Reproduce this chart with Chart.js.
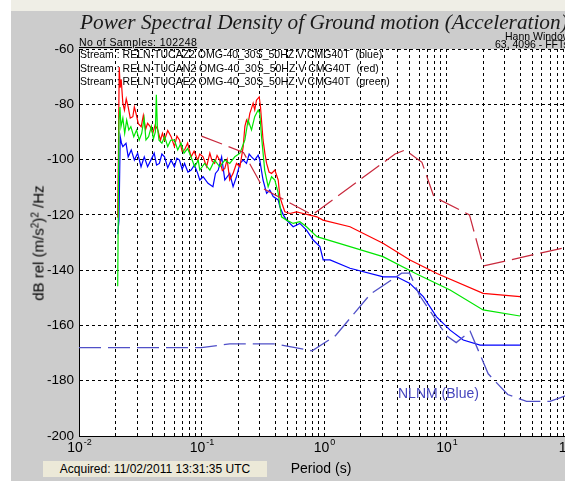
<!DOCTYPE html>
<html>
<head>
<meta charset="utf-8">
<script src="https://cdn.jsdelivr.net/npm/chart.js@4.4.1/dist/chart.umd.min.js"></script>
<style>
  html, body { margin: 0; padding: 0; }
  body { width: 565px; height: 481px; overflow: hidden; position: relative; background: #fff;
         font-family: "Liberation Sans", Arial, sans-serif; }
  #strip { position: absolute; left: 11px; top: 0; right: 0; height: 11px; background: #efeee6; }
  #panel { position: absolute; left: 11px; top: 11px; right: 0; bottom: 0; background: #cccccc; }
  #wrap { position: absolute; left: 0; top: 0; width: 620px; height: 481px; }
  .txt { position: absolute; white-space: nowrap; color: #000; }
  #title { left: 80px; top: 12px; font: italic 21.3px "Liberation Serif", "Times New Roman", serif; line-height: 21px; color: #1a1a1a; }
  .small { font-size: 10.5px; line-height: 10px; }
  #ylabel { left: 38px; top: 243px; font-size: 15px; transform: translate(-50%, -50%) rotate(-90deg); }
  #ylabel sup { font-size: 10px; vertical-align: 5px; line-height: 0; }
  #xlabel { left: 321px; top: 468px; font-size: 14px; transform: translate(-50%, -50%); }
  #acquired { left: 43px; top: 461px; width: 224px; height: 16px; background: #ece9d8; font-size: 12px; line-height: 16px; text-align: center; }
  #nlnm { left: 398px; top: 385px; font-size: 14px; color: #4646be; }
</style>
</head>
<body>
<div id="strip"></div>
<div id="panel"></div>
<div id="wrap"><canvas id="psdChart" width="620" height="481"></canvas></div>
<div class="txt" id="title">Power Spectral Density of Ground motion (Acceleration)</div>
<div class="txt small" style="left:505px; top:31px;">Hann Window</div>
<div class="txt small" style="left:495px; top:39px;">63, 4096 - FFTs</div>
<div class="txt small" style="left:79px; top:37px; text-decoration: underline; letter-spacing: 0.4px;">No of Samples: 102248</div>
<div class="txt small" style="left:80px; top:49px;">Stream : RELN-TUCAZ2 OMG-40_30S_50HZ V CMG40T&nbsp; (blue)</div>
<div class="txt small" style="left:80px; top:63px;">Stream : RELN-TUCAN2 OMG-40_30S_50HZ V CMG40T&nbsp; (red)</div>
<div class="txt small" style="left:80px; top:76px;">Stream : RELN-TUCAE2 OMG-40_30S_50HZ V CMG40T&nbsp; (green)</div>
<div class="txt" id="ylabel">dB rel (m/s<sup>2</sup>)<sup>2</sup> /Hz</div>
<div class="txt" id="xlabel">Period (s)</div>
<div class="txt" id="acquired">Acquired: 11/02/2011 13:31:35 UTC</div>
<div class="txt" id="nlnm">NLNM (Blue)</div>
<script>
// period axis
const periodTickValues = [0.01, 0.1, 1, 10, 100];
const periodTickExponents = ['-2', '-1', '0', '1', '2'];
const periodGridMultiples = [1, 2, 3, 4, 5, 6, 7, 8, 9];

// N component (red)
const redPeriods = [0.0207, 0.0210, 0.0213, 0.0217, 0.0221, 0.0228, 0.0235, 0.0243, 0.0252, 0.0262, 0.0275, 0.0283,
  0.0292, 0.0305, 0.0322, 0.0335, 0.0350, 0.0363, 0.0380, 0.0400, 0.0418, 0.0440, 0.0462, 0.0480, 0.0499, 0.0530,
  0.0565, 0.0601, 0.0630, 0.0661, 0.0695, 0.0727, 0.0770, 0.0823, 0.0870, 0.0931, 0.0968, 0.103, 0.110, 0.117,
  0.122, 0.128, 0.134, 0.141, 0.148, 0.155, 0.162, 0.170, 0.181, 0.193, 0.206, 0.219, 0.226, 0.233, 0.240, 0.248,
  0.256, 0.264, 0.272, 0.281, 0.296, 0.303, 0.318, 0.330, 0.340, 0.356, 0.373, 0.397, 0.423, 0.436, 0.455, 0.479,
  0.526, 0.597, 0.676, 0.767, 0.875, 0.98, 1.63, 3.03, 5.03, 8.36, 19.9, 39.8];
const redDb = [-121, -96, -66.5, -74, -71, -79.6, -82.1, -78, -80.9, -85, -84.5, -81,
  -83.3, -87, -88.1, -84, -89, -86.9, -88, -90.5, -87.5, -89.3, -93, -90.5, -92.9, -89.5,
  -91.7, -95.3, -91.5, -92.9, -97, -96.5, -94, -99.0, -97, -100.2, -98, -99.0, -102.6, -97.7,
  -100.5, -101.4, -98.5, -100.2, -104, -103.2, -100, -107.4, -105.0, -101.4, -102.6, -95.3, -88, -85.7, -87, -83.3,
  -81.5, -79.6, -82, -78.5, -77.3, -80.9, -92.9, -98, -101.4, -104.5, -105.0, -103.8, -107.4, -113.4, -116, -118.9,
  -119.5, -118.9, -119.5, -120.1, -120.7, -121.9, -124.3, -130.3, -136.3, -141.2, -148.4, -149.6];

// E component (green)
const greenPeriods = [0.0207, 0.0212, 0.0216, 0.0220, 0.0228, 0.0236, 0.0245, 0.0255, 0.0265, 0.0280, 0.0295, 0.0310,
  0.0325, 0.0340, 0.0352, 0.0370, 0.0390, 0.0405, 0.0420, 0.0428, 0.0436, 0.0450, 0.0475, 0.0500, 0.0530, 0.0560,
  0.0600, 0.0640, 0.0680, 0.0720, 0.0770, 0.0820, 0.0880, 0.0940, 0.0968, 0.106, 0.117, 0.128, 0.141, 0.155,
  0.170, 0.187, 0.206, 0.226, 0.240, 0.256, 0.272, 0.290, 0.299, 0.309, 0.328, 0.350, 0.373, 0.397, 0.423, 0.450,
  0.495, 0.56, 0.635, 0.72, 0.875, 1.63, 3.03, 5.6, 10.7, 19.9, 39.8];
const greenDb = [-145.8, -86, -81, -88.1, -85, -90.5, -85.7, -89.3, -88.1, -91.7, -89.3, -92.9,
  -90.5, -85.1, -92.9, -91.7, -88, -92.5, -90, -76.6, -88, -93, -94.1, -91.7, -95.3, -93,
  -92.9, -96.5, -94, -97.7, -96, -99, -102.6, -100.2, -103.8, -101.4, -103.8, -100.2, -102.6, -100.2,
  -101.4, -99.0, -97.7, -92.9, -85.7, -89.3, -84.5, -82.1, -83.3, -91.7, -103.8, -109.8, -106.2, -107.4, -112.2, -120.7,
  -121.9, -123.1, -122.5, -124.3, -127.9, -131.5, -135.1, -141.2, -147.2, -154.4, -156.6];

// Z component (blue)
const bluePeriods = [0.0207, 0.0212, 0.0217, 0.0222, 0.0228, 0.0242, 0.0252, 0.0267, 0.0283, 0.0301, 0.0321, 0.0341,
  0.0363, 0.0386, 0.0411, 0.0430, 0.0453, 0.0475, 0.0499, 0.0530, 0.0565, 0.0601, 0.0630, 0.0661, 0.0695, 0.0727,
  0.0775, 0.0823, 0.0875, 0.0931, 0.0968, 0.103, 0.113, 0.124, 0.130, 0.137, 0.146, 0.155, 0.170, 0.181,
  0.193, 0.206, 0.219, 0.233, 0.245, 0.256, 0.272, 0.290, 0.299, 0.318, 0.340, 0.361, 0.385, 0.423, 0.436, 0.465,
  0.495, 0.56, 0.635, 0.72, 0.816, 0.926, 0.985, 1.12, 1.63, 3.05, 3.92, 5.03, 6.46, 8.3, 10.7, 13.7, 18.8, 39.8];
const blueDb = [-127, -122, -91.7, -94, -95.3, -94.1, -99.0, -96.5, -100.2, -97.7, -102.6, -99.0,
  -102.6, -100.2, -97.7, -102, -101.4, -98, -99.0, -103, -100.2, -102.6, -99.5, -100.2, -103.5, -101.4,
  -104.5, -103.8, -102, -105.0, -107.4, -106.2, -108.6, -109.8, -105, -103.8, -99.0, -107.4, -105.0, -109.8,
  -106.2, -101.4, -100.2, -101.4, -98, -99.0, -100.2, -98.4, -100.2, -107.4, -112.2, -111.0, -113.4, -114.6, -117.1, -120,
  -121.9, -124.3, -123.1, -125.5, -129.1, -131.5, -136.3, -136.3, -139.3, -142.4, -142.4, -144.8, -149.6, -156.9, -161.7, -165.3, -167.1, -167.1];

// high noise model (red dashed)
const nhnmPeriods = [0.1, 0.22, 0.32, 0.8, 3.8, 4.6, 6.3, 7.9, 15.4, 20, 100];
const nhnmDb = [-91.5, -97.4, -110.5, -120.0, -98.0, -96.5, -101.0, -113.5, -120.0, -138.5, -131.5];

// low noise model (blue dashed)
const nlnmPeriods = [0.01, 0.1, 0.17, 0.4, 0.8, 1.24, 2.4, 4.3, 5, 6, 10, 12, 15.6, 21.9, 31.6, 45, 70, 100];
const nlnmDb = [-168.0, -168.0, -166.7, -166.7, -169.2, -163.7, -148.6, -141.1, -141.1, -149.0, -163.7, -166.2,
  -162.1, -177.5, -185.0, -187.5, -187.5, -185.0];

const toPoints = (periods, values) => periods.map((p, i) => ({ x: p, y: values[i] }));

const labelFont = '"Liberation Sans", Arial, sans-serif';

const plotBackground = {
  id: 'plotBackground',
  beforeDraw(chart) {
    const { ctx, chartArea: a } = chart;
    ctx.save();
    ctx.fillStyle = '#fff';
    ctx.fillRect(a.left, a.top, a.right - a.left, a.bottom - a.top);
    ctx.restore();
  }
};

// "10" with a raised exponent under each decade
const periodLabels = {
  id: 'periodLabels',
  afterDraw(chart) {
    const { ctx, scales: { x } } = chart;
    ctx.save();
    ctx.fillStyle = '#000';
    periodTickValues.forEach((v, i) => {
      const px = x.getPixelForValue(v);
      ctx.font = '14px ' + labelFont;
      const w1 = ctx.measureText('10').width;
      ctx.font = '9px ' + labelFont;
      const w2 = ctx.measureText(periodTickExponents[i]).width;
      const left = px - (w1 + w2) / 2;
      ctx.font = '14px ' + labelFont;
      ctx.fillText('10', left, x.top + 16);
      ctx.font = '9px ' + labelFont;
      ctx.fillText(periodTickExponents[i], left + w1 + 1, x.top + 9);
    });
    ctx.restore();
  }
};

const lineStyle = { pointRadius: 0, borderWidth: 1.2, tension: 0, fill: false };

new Chart(document.getElementById('psdChart').getContext('2d'), {
  type: 'line',
  data: {
    datasets: [
      { ...lineStyle, label: 'NHNM', data: toPoints(nhnmPeriods, nhnmDb), borderColor: '#c8283c', borderDash: [22, 7], borderWidth: 1.2 },
      { ...lineStyle, label: 'NLNM', data: toPoints(nlnmPeriods, nlnmDb), borderColor: '#5050c8', borderDash: [22, 7], borderWidth: 1.3 },
      { ...lineStyle, label: 'green', data: toPoints(greenPeriods, greenDb), borderColor: '#00e600' },
      { ...lineStyle, label: 'red', data: toPoints(redPeriods, redDb), borderColor: '#ff0000' },
      { ...lineStyle, label: 'blue', data: toPoints(bluePeriods, blueDb), borderColor: '#0000ff' }
    ]
  },
  options: {
    responsive: false,
    animation: false,
    devicePixelRatio: 1,
    layout: { padding: { left: 0, top: 49, right: 51, bottom: 0 } },
    plugins: { legend: { display: false }, tooltip: { enabled: false } },
    scales: {
      x: {
        type: 'logarithmic',
        min: 0.01,
        max: 100,
        afterBuildTicks: scale => {
          const ticks = [];
          periodTickValues.slice(0, -1).forEach(decade => {
            periodGridMultiples.forEach(m => ticks.push({ value: decade * m }));
          });
          ticks.push({ value: periodTickValues[periodTickValues.length - 1] });
          scale.ticks = ticks;
        },
        afterFit: scale => { scale.height = 45; },
        ticks: { display: false, autoSkip: false },
        grid: { color: '#000', lineWidth: 1, drawTicks: false },
        border: { display: true, color: '#000', width: 1, dash: [3, 3] }
      },
      y: {
        min: -200,
        max: -60,
        afterFit: scale => { scale.width = 79; },
        ticks: { stepSize: 20, autoSkip: false, color: '#000', padding: 5, font: { family: 'Liberation Sans', size: 13.5 } },
        grid: { color: '#000', lineWidth: 1, drawTicks: false },
        border: { display: true, color: '#000', width: 1, dash: [3, 3] }
      }
    }
  },
  plugins: [plotBackground, periodLabels]
});
</script>
</body>
</html>
